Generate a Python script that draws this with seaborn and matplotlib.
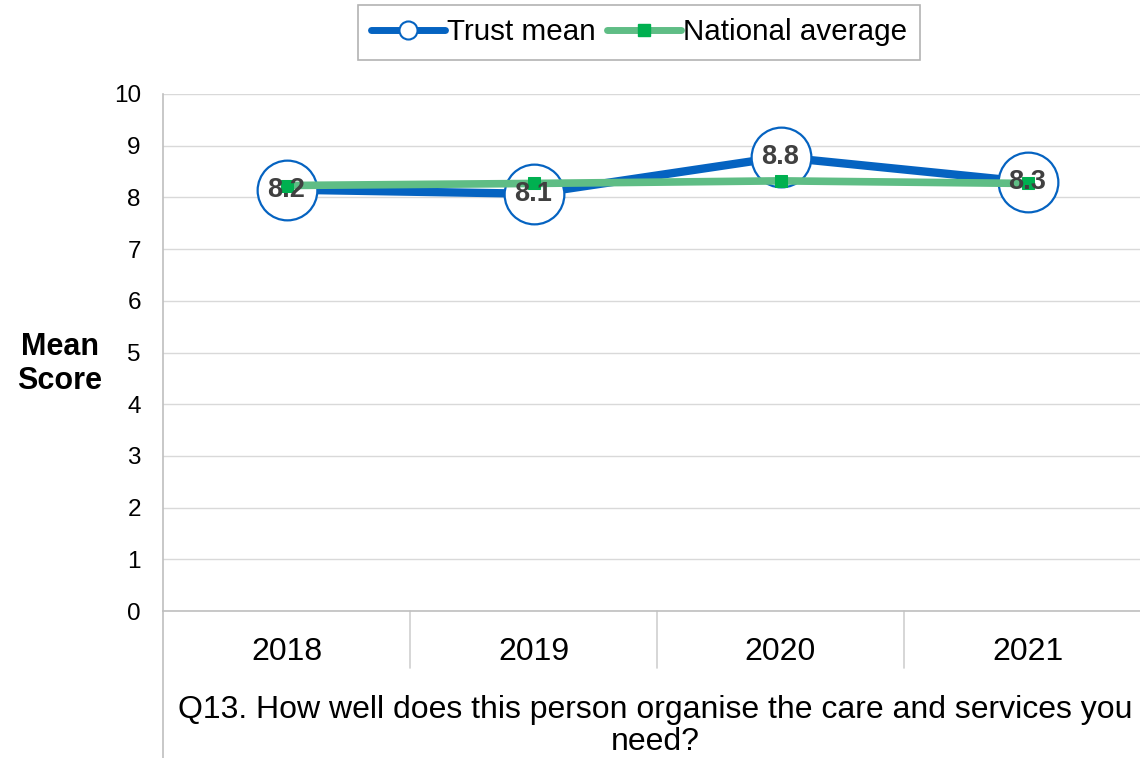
import matplotlib
matplotlib.use("Agg")
import matplotlib.pyplot as plt
import seaborn as sns
import pandas as pd
from matplotlib.lines import Line2D

years = ["2018", "2019", "2020", "2021"]
trust_mean = [8.15, 8.07, 8.78, 8.30]
trust_labels = ["8.2", "8.1", "8.8", "8.3"]
national_avg = [8.23, 8.27, 8.32, 8.27]
question = "Q13. How well does this person organise the care and services you\nneed?"
y_ticks = list(range(0, 11))

sns.set_theme(style="white")
plt.rcParams['font.family'] = ['Liberation Sans', 'DejaVu Sans']
plt.rcParams['text.color'] = 'black'
plt.rcParams['xtick.color'] = 'black'
plt.rcParams['ytick.color'] = 'black'

df = pd.DataFrame({"idx": range(len(years)), "year": years,
                   "trust": trust_mean, "national": national_avg})

fig = plt.figure(figsize=(11.4, 7.58), dpi=100)
ax = fig.add_axes([163/1140, (758-611)/758, (1151-163)/1140, (611-94)/758])

blue = "#0563C1"
green_line = "#5FBD85"
green_mark = "#00B050"

sns.lineplot(data=df, x="idx", y="trust", ax=ax, color=blue, linewidth=6,
             marker="o", markersize=43, markerfacecolor="white",
             markeredgecolor=blue, markeredgewidth=1.6, zorder=3)
sns.lineplot(data=df, x="idx", y="national", ax=ax, color=green_line, linewidth=5.5,
             marker="s", markersize=9, markerfacecolor=green_mark,
             markeredgecolor=green_mark, zorder=4)

for i, (v, lab) in enumerate(zip(trust_mean, trust_labels)):
    ax.text(i, v, lab, ha="center", va="center", fontsize=19.5, fontweight="bold",
            color="#404040", zorder=6)

ax.set_xlim(-0.5, 3.5)
ax.set_ylim(0, 10)
ax.set_yticks(y_ticks)
ax.set_yticklabels([str(t) for t in y_ticks], fontsize=17.5)
ax.set_xticks(range(len(years)))
ax.set_xticklabels(years, fontsize=23)
ax.tick_params(axis="x", length=0, pad=19)
ax.tick_params(axis="y", length=0, pad=16)
ax.set_xlabel("")
ax.set_ylabel("")
ax.grid(axis="y", color="#D9D9D9", linewidth=1)
ax.set_axisbelow(True)
for s in ["top", "right"]:
    ax.spines[s].set_visible(False)
for s in ["left", "bottom"]:
    ax.spines[s].set_color("#BFBFBF")
    ax.spines[s].set_linewidth(1.2)

# category separators below axis
trans = ax.get_xaxis_transform()
for b in [0.5, 1.5, 2.5]:
    ax.add_line(Line2D([b, b], [0, -57/517], transform=trans, color="#D0D0D0",
                       linewidth=1.2, clip_on=False))
ax.add_line(Line2D([-0.5, -0.5], [0, -147/517], transform=trans, color="#BFBFBF",
                   linewidth=1.2, clip_on=False))

fig.text(655/1140, 1 - 726/758, question, ha="center", va="center", fontsize=23,
         linespacing=1.12)

fig.text(60/1140, 1 - 364/758, "Mean\nScore", ha="center", va="center",
         fontsize=22, fontweight="bold", linespacing=1.15)

handles = [
    Line2D([], [], color=blue, linewidth=5, marker="o", markersize=13,
           markerfacecolor="white", markeredgecolor=blue, markeredgewidth=1.5),
    Line2D([], [], color=green_line, linewidth=5, marker="s", markersize=9,
           markerfacecolor=green_mark, markeredgecolor=green_mark),
]
leg = fig.legend(handles, ["Trust mean", "National average"], loc="upper center",
                 bbox_to_anchor=(639/1140, 1 - 5/758), ncol=2, fontsize=21.3,
                 frameon=True, fancybox=False, edgecolor="#A0A0A0",
                 handlelength=2.5, handletextpad=0.05, columnspacing=0.4,
                 borderpad=0.45, borderaxespad=0.0)
leg.get_frame().set_linewidth(1.2)

fig.savefig("out.png", dpi=100)
